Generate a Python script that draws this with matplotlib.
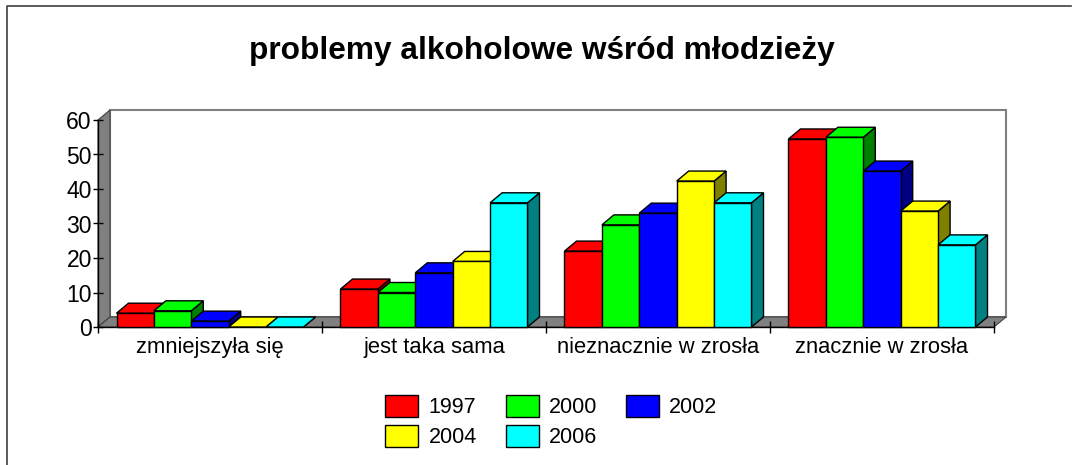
import matplotlib
matplotlib.use("Agg")
import matplotlib.pyplot as plt
from matplotlib.patches import Polygon, Rectangle

W, H = 1072, 465

plt.rcParams["font.family"] = ["Liberation Sans", "DejaVu Sans"]

categories = ["zmniejszyła się", "jest taka sama", "nieznacznie w zrosła", "znacznie w zrosła"]
years = ["1997", "2000", "2002", "2004", "2006"]
yticks = [0, 10, 20, 30, 40, 50, 60]

v1997 = [4.0, 11.0, 22.0, 54.5]
v2000 = [4.7, 10.0, 29.6, 55.0]
v2002 = [1.7, 15.7, 33.0, 45.2]
v2004 = [0.0, 19.0, 42.3, 33.6]
v2006 = [0.0, 36.0, 36.0, 23.8]
series = [v1997, v2000, v2002, v2004, v2006]

front = ["#ff0000", "#00ff00", "#0000ff", "#ffff00", "#00ffff"]
shade = ["#800000", "#008000", "#000080", "#808000", "#008080"]

# fake 3d depth, in data units
DX = 12 / 224
DY = 10 / 3.45
BAR_W = 187 / 224 / 5

fig = plt.figure(figsize=(W / 100, H / 100), dpi=100)

# outer chart frame, the picture is cropped before the right side
fig.add_artist(plt.Line2D([7 / W, 7 / W, 1 - 1 / W], [0, 1 - 6 / H, 1 - 6 / H],
                          color="#404040", lw=1.2))

ax = fig.add_axes([98 / W, 1 - 327 / H, 896 / W, 207 / H])
ax.set_xlim(0, 4)
ax.set_ylim(0, 60)
for s in ax.spines.values():
    s.set_visible(False)
ax.patch.set_visible(False)


def poly(pts, color, z=2, ec="black", lw=1.0):
    ax.add_patch(Polygon(pts, closed=True, facecolor=color, edgecolor=ec, lw=lw,
                         clip_on=False, zorder=z, joinstyle="miter"))


# back wall, side wall, floor
poly([(DX, DY), (4 + DX, DY), (4 + DX, 60 + DY), (DX, 60 + DY)], "white", 1, "#808080", 1.5)
poly([(0, 0), (DX, DY), (DX, 60 + DY), (0, 60)], "#808080", 1, "#404040", 0.8)
poly([(0, 0), (4, 0), (4 + DX, DY), (DX, DY)], "#808080", 1, "#404040", 0.8)

for c in range(len(categories)):
    left = c + (1 - 5 * BAR_W) / 2
    for i, vals in enumerate(series):
        x0 = left + i * BAR_W
        x1 = x0 + BAR_W
        v = vals[c]
        z = 3 + c * 10 + i
        if v > 0:
            ax.bar(x0, v, BAR_W, align="edge", color=front[i], edgecolor="black", lw=1.0,
                   zorder=z + 0.5, clip_on=False)
        poly([(x1, 0), (x1 + DX, DY), (x1 + DX, v + DY), (x1, v)], shade[i], z)
        poly([(x0, v), (x1, v), (x1 + DX, v + DY), (x0 + DX, v + DY)], front[i], z + 0.4)

ax.set_yticks(yticks)
ax.set_yticklabels([str(t) for t in yticks], fontsize=16.5)
ax.set_xticks(range(5))
ax.set_xticklabels([])
ax.set_xticks([0.5, 1.5, 2.5, 3.5], minor=True)
ax.set_xticklabels(categories, minor=True, fontsize=15.8)
ax.tick_params(axis="y", direction="inout", length=7, width=1, pad=1)
ax.tick_params(axis="x", which="major", direction="inout", length=8, width=1)
ax.tick_params(axis="x", which="minor", length=0, pad=7)
ax.plot([0, 4], [0, 0], color="black", lw=1, clip_on=False, zorder=2)
ax.plot([0, 0], [0, 60], color="black", lw=1, clip_on=False, zorder=2)

fig.text(541.5 / W, 1 - 51 / H, "problemy alkoholowe wśród młodzieży", fontsize=22.8,
         fontweight="bold", ha="center", va="center")

# legend, laid out by hand to keep the two-row spacing
leg_x = [385, 505.5, 625.5]
leg_y = [395, 425]
for i, y in enumerate(years):
    col, row = i % 3, i // 3
    fig.add_artist(Rectangle((leg_x[col] / W, 1 - (leg_y[row] + 22) / H), 33 / W, 22 / H,
                             facecolor=front[i], edgecolor="black", lw=1.0,
                             transform=fig.transFigure))
    fig.text((leg_x[col] + 43.5) / W, 1 - (leg_y[row] + 12) / H, y, fontsize=15.5,
             ha="left", va="center")

fig.savefig("out.png", dpi=100)
